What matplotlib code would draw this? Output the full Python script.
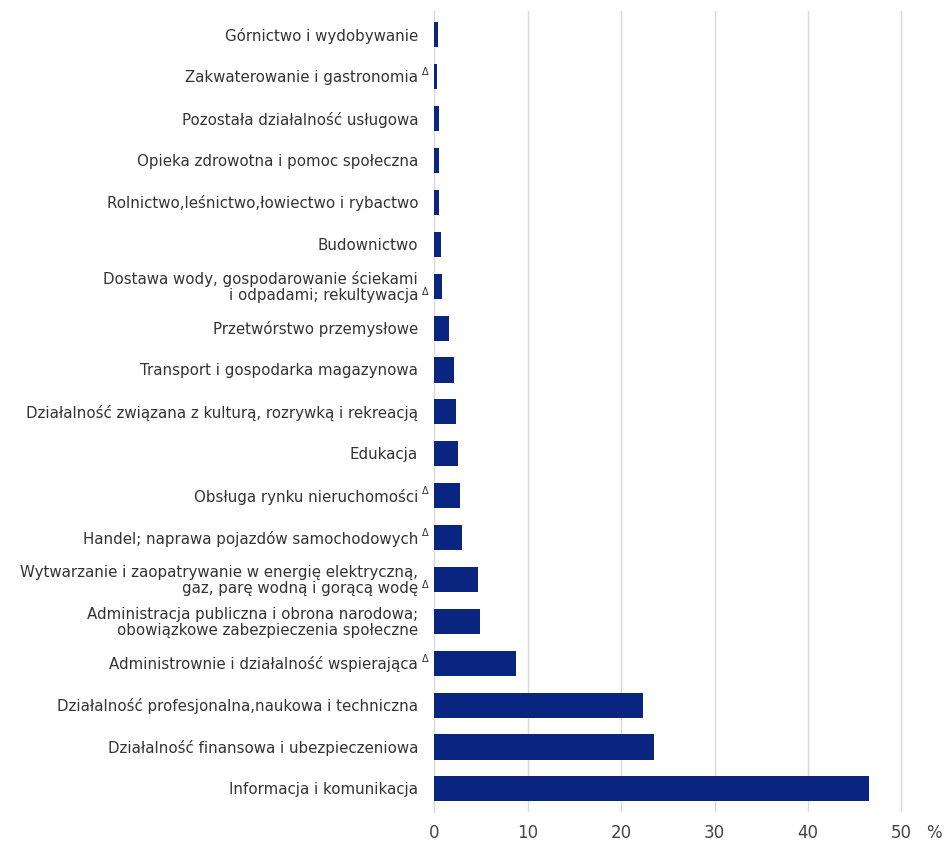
import matplotlib
matplotlib.use("Agg")
import matplotlib.pyplot as plt

# sections, top to bottom
labels = [
    "Górnictwo i wydobywanie",
    "Zakwaterowanie i gastronomia",
    "Pozostała działalność usługowa",
    "Opieka zdrowotna i pomoc społeczna",
    "Rolnictwo,leśnictwo,łowiectwo i rybactwo",
    "Budownictwo",
    "Dostawa wody, gospodarowanie ściekami\ni odpadami; rekultywacja",
    "Przetwórstwo przemysłowe",
    "Transport i gospodarka magazynowa",
    "Działalność związana z kulturą, rozrywką i rekreacją",
    "Edukacja",
    "Obsługa rynku nieruchomości",
    "Handel; naprawa pojazdów samochodowych",
    "Wytwarzanie i zaopatrywanie w energię elektryczną,\ngaz, parę wodną i gorącą wodę",
    "Administracja publiczna i obrona narodowa;\nobowiązkowe zabezpieczenia społeczne",
    "Administrownie i działalność wspierająca",
    "Działalność profesjonalna,naukowa i techniczna",
    "Działalność finansowa i ubezpieczeniowa",
    "Informacja i komunikacja",
]
delta = [0, 1, 0, 0, 0, 0, 1, 0, 0, 0, 0, 1, 1, 1, 0, 1, 0, 0, 0]
values = [0.4, 0.35, 0.5, 0.5, 0.5, 0.7, 0.9, 1.6, 2.1, 2.3, 2.6, 2.8, 2.95,
          4.7, 4.9, 8.8, 22.4, 23.5, 46.5]
xticks = [0, 10, 20, 30, 40, 50]

navy = "#0a2580"
txt = "#333333"

fig = plt.figure(figsize=(9.51, 8.45), dpi=100)
ax = fig.add_axes([0.4564, 0.038, 0.4935, 0.9478])

pos = list(range(len(labels)))
ax.barh(pos, values, height=0.6, color=navy, zorder=3)

ax.set_xlim(0, 50.2)
ax.set_ylim(18.55, -0.57)
ax.set_xticks(xticks)
ax.set_xticklabels([str(t) for t in xticks], fontsize=12, color="#444444")
ax.tick_params(axis="x", length=0, pad=8)
ax.set_yticks([])
ax.grid(axis="x", color="#d9d9d9", linewidth=1, zorder=0)
for s in ["top", "right", "bottom"]:
    ax.spines[s].set_visible(False)
ax.spines["left"].set_color("#d9d9d9")

for i, lab in enumerate(labels):
    ax.annotate(lab, xy=(0, i), xycoords=("axes fraction", "data"),
                xytext=(-11.5, 0), textcoords="offset points",
                ha="right", va="center", fontsize=10.8, color=txt,
                multialignment="right", linespacing=1.1)
    if delta[i]:
        dy = 4 if "\n" not in lab else -3.5
        ax.annotate("Δ", xy=(0, i), xycoords=("axes fraction", "data"),
                    xytext=(-4.2, dy), textcoords="offset points",
                    ha="right", va="center", fontsize=7, color=txt)

ax.annotate("%", xy=(1, 0), xycoords="axes fraction",
            xytext=(22, -8), textcoords="offset points",
            ha="center", va="top", fontsize=12, color="#444444")

fig.savefig("out.png", dpi=100)
